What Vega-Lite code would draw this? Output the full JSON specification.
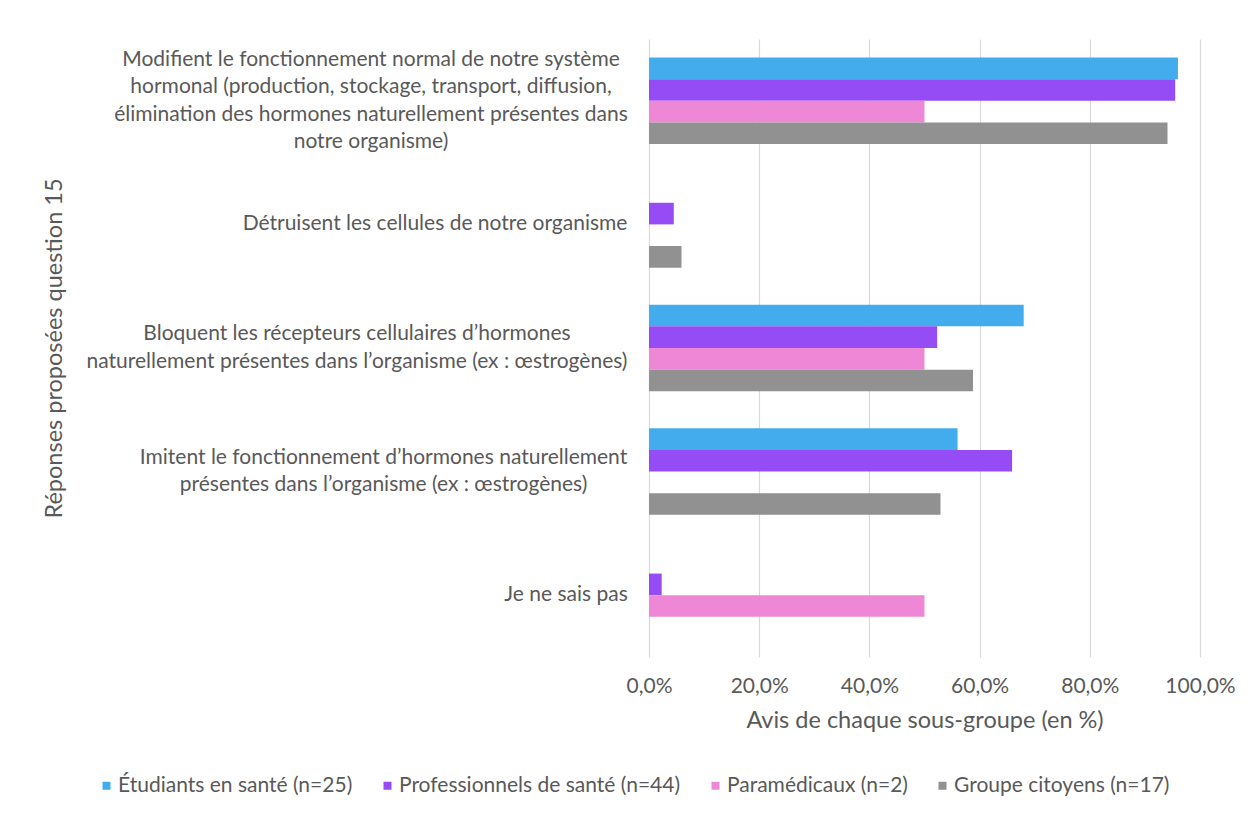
{
  "$schema": "https://vega.github.io/schema/vega-lite/v6.json",
  "autosize": "none",
  "width": 551,
  "height": 618,
  "padding": {"left": 649, "top": 39, "right": 48, "bottom": 159},
  "background": "#ffffff",
  "data": {
    "values": [
      {"reponse": "Modifient le fonctionnement normal de notre système\nhormonal (production, stockage, transport, diffusion,\nélimination des hormones naturellement présentes dans\nnotre organisme)", "groupe": "Étudiants en santé (n=25)", "part": 0.96},
      {"reponse": "Modifient le fonctionnement normal de notre système\nhormonal (production, stockage, transport, diffusion,\nélimination des hormones naturellement présentes dans\nnotre organisme)", "groupe": "Professionnels de santé (n=44)", "part": 0.955},
      {"reponse": "Modifient le fonctionnement normal de notre système\nhormonal (production, stockage, transport, diffusion,\nélimination des hormones naturellement présentes dans\nnotre organisme)", "groupe": "Paramédicaux (n=2)", "part": 0.5},
      {"reponse": "Modifient le fonctionnement normal de notre système\nhormonal (production, stockage, transport, diffusion,\nélimination des hormones naturellement présentes dans\nnotre organisme)", "groupe": "Groupe citoyens (n=17)", "part": 0.941},
      {"reponse": "Détruisent les cellules de notre organisme", "groupe": "Étudiants en santé (n=25)", "part": 0},
      {"reponse": "Détruisent les cellules de notre organisme", "groupe": "Professionnels de santé (n=44)", "part": 0.045},
      {"reponse": "Détruisent les cellules de notre organisme", "groupe": "Paramédicaux (n=2)", "part": 0},
      {"reponse": "Détruisent les cellules de notre organisme", "groupe": "Groupe citoyens (n=17)", "part": 0.059},
      {"reponse": "Bloquent les récepteurs cellulaires d’hormones\nnaturellement présentes dans l’organisme (ex : œstrogènes)", "groupe": "Étudiants en santé (n=25)", "part": 0.68},
      {"reponse": "Bloquent les récepteurs cellulaires d’hormones\nnaturellement présentes dans l’organisme (ex : œstrogènes)", "groupe": "Professionnels de santé (n=44)", "part": 0.523},
      {"reponse": "Bloquent les récepteurs cellulaires d’hormones\nnaturellement présentes dans l’organisme (ex : œstrogènes)", "groupe": "Paramédicaux (n=2)", "part": 0.5},
      {"reponse": "Bloquent les récepteurs cellulaires d’hormones\nnaturellement présentes dans l’organisme (ex : œstrogènes)", "groupe": "Groupe citoyens (n=17)", "part": 0.588},
      {"reponse": "Imitent le fonctionnement d’hormones naturellement\nprésentes dans l’organisme (ex : œstrogènes)", "groupe": "Étudiants en santé (n=25)", "part": 0.56},
      {"reponse": "Imitent le fonctionnement d’hormones naturellement\nprésentes dans l’organisme (ex : œstrogènes)", "groupe": "Professionnels de santé (n=44)", "part": 0.659},
      {"reponse": "Imitent le fonctionnement d’hormones naturellement\nprésentes dans l’organisme (ex : œstrogènes)", "groupe": "Paramédicaux (n=2)", "part": 0},
      {"reponse": "Imitent le fonctionnement d’hormones naturellement\nprésentes dans l’organisme (ex : œstrogènes)", "groupe": "Groupe citoyens (n=17)", "part": 0.529},
      {"reponse": "Je ne sais pas", "groupe": "Étudiants en santé (n=25)", "part": 0},
      {"reponse": "Je ne sais pas", "groupe": "Professionnels de santé (n=44)", "part": 0.023},
      {"reponse": "Je ne sais pas", "groupe": "Paramédicaux (n=2)", "part": 0.5},
      {"reponse": "Je ne sais pas", "groupe": "Groupe citoyens (n=17)", "part": 0}
    ]
  },
  "mark": {"type": "bar", "orient": "horizontal"},
  "encoding": {
    "y": {
      "field": "reponse",
      "type": "nominal",
      "sort": null,
      "scale": {"paddingInner": 0.3, "paddingOuter": 0.15},
      "axis": {
        "title": "Réponses proposées question 15",
        "titleAngle": -90,
        "titleX": -588,
        "titleAlign": "center",
        "titleBaseline": "alphabetic",
        "titleFontSize": 23.5,
        "titleFontWeight": "normal",
        "titleColor": "#595959",
        "labelExpr": "split(datum.label, '\\n')",
        "labelAlign": "center",
        "labelBaseline": "middle",
        "labelPadding": {
          "condition": [
            {"test": "indexof(datum.label, 'Modifient') == 0", "value": 278.5},
            {"test": "indexof(datum.label, 'Détruisent') == 0", "value": 214.5},
            {"test": "indexof(datum.label, 'Bloquent') == 0", "value": 292.5},
            {"test": "indexof(datum.label, 'Imitent') == 0", "value": 266}
          ],
          "value": 83.5
        },
        "labelFontSize": 21,
        "labelLineHeight": 27.5,
        "labelColor": "#595959",
        "labelLimit": 700,
        "labelOffset": {
          "condition": [
            {"test": "length(split(datum.label, '\\n')) == 4", "value": -41.25},
            {"test": "length(split(datum.label, '\\n')) == 2", "value": -13.75}
          ],
          "value": 0
        },
        "ticks": false,
        "domain": false,
        "grid": false
      }
    },
    "yOffset": {
      "field": "groupe",
      "type": "nominal",
      "sort": ["Étudiants en santé (n=25)", "Professionnels de santé (n=44)", "Paramédicaux (n=2)", "Groupe citoyens (n=17)"],
      "scale": {"paddingInner": 0, "paddingOuter": 0}
    },
    "x": {
      "field": "part",
      "type": "quantitative",
      "scale": {"domain": [0, 1], "nice": false},
      "axis": {
        "title": "Avis de chaque sous-groupe (en %)",
        "titleFontSize": 23.5,
        "titleFontWeight": "normal",
        "titleColor": "#595959",
        "titleBaseline": "middle",
        "titleY": 63,
        "values": [0, 0.2, 0.4, 0.6, 0.8, 1],
        "labelExpr": "replace(format(datum.value, '.1%'), '.', ',')",
        "labelFontSize": 21,
        "labelColor": "#595959",
        "labelBaseline": "middle",
        "labelPadding": 29,
        "labelFlush": false,
        "ticks": false,
        "domain": false,
        "grid": true,
        "gridColor": "#d9d9d9",
        "gridWidth": 1.2
      }
    },
    "color": {
      "field": "groupe",
      "type": "nominal",
      "sort": ["Étudiants en santé (n=25)", "Professionnels de santé (n=44)", "Paramédicaux (n=2)", "Groupe citoyens (n=17)"],
      "scale": {
        "domain": ["Étudiants en santé (n=25)", "Professionnels de santé (n=44)", "Paramédicaux (n=2)", "Groupe citoyens (n=17)"],
        "range": ["#42acec", "#964cf5", "#ee88d6", "#919191"]
      },
      "legend": {
        "title": null,
        "orient": "none",
        "direction": "horizontal",
        "legendX": -553,
        "legendY": 736,
        "symbolType": "square",
        "symbolSize": 64,
        "symbolStrokeWidth": 0,
        "labelFontSize": 21,
        "labelColor": "#595959",
        "labelOffset": 1,
        "labelLimit": 400,
        "columnPadding": 24
      }
    }
  },
  "config": {
    "font": "Lato",
    "view": {"stroke": null}
  }
}
